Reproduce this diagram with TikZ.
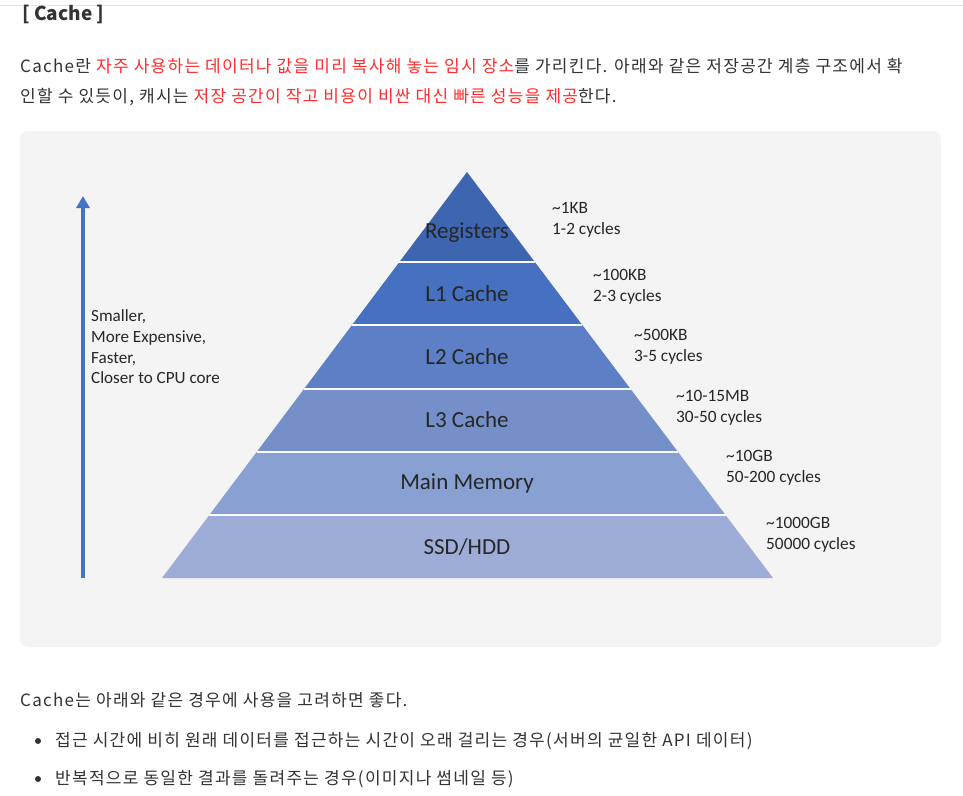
\documentclass[tikz,border=0pt]{standalone}
\usepackage{fontspec}
\setmainfont{Carlito}
\newfontfamily\krfont{Noto Sans CJK KR}[LetterSpace=7.5]
\newfontfamily\krhead{Noto Sans CJK KR}
\usetikzlibrary{arrows.meta, positioning, calc}

\definecolor{txtgray}{HTML}{333333}
\definecolor{hired}{HTML}{FF2D2D}
\definecolor{panelgray}{HTML}{F4F4F4}
\definecolor{arrowblue}{HTML}{4472C4}
\definecolor{lvla}{HTML}{3D65B0}
\definecolor{lvlb}{HTML}{4670C0}
\definecolor{lvlc}{HTML}{5C7FC6}
\definecolor{lvld}{HTML}{7590C9}
\definecolor{lvle}{HTML}{89A0D2}
\definecolor{lvlf}{HTML}{9DADD8}

\begin{document}
\begin{tikzpicture}[
  x=1pt, y=-1pt,
  body/.style={anchor=west, inner sep=0pt, text=txtgray, font=\krfont\fontsize{17}{17}\selectfont},
  layer/.style={inner sep=0pt, text=black!85, font=\fontsize{23}{23}\selectfont},
  spec/.style={anchor=west, align=left, inner sep=0pt, text=black!85, font=\fontsize{17.3}{21}\selectfont},
  dot/.style={circle, fill=txtgray, inner sep=0pt, minimum size=6pt},
  arr/.style={arrowblue, line width=4pt, -{Triangle[length=12pt, width=13pt]}}
]
\useasboundingbox (0,0) rectangle (963,795);
\fill[white] (0,0) rectangle (963,795);
\draw[black!10] (0,5) -- (963,5);

% header and intro
\node[body, font=\krhead\bfseries\fontsize{19}{19}\selectfont] (title) at (22,14) {[ Cache ]};
\node[body] (introa) at (20,66) {Cache란 \textcolor{hired}{자주 사용하는 데이터나 값을 미리 복사해 놓는 임시 장소}를 가리킨다. 아래와 같은 저장공간 계층 구조에서 확};
\node[body] (introb) at (20,97) {인할 수 있듯이, 캐시는 \textcolor{hired}{저장 공간이 작고 비용이 비싼 대신 빠른 성능을 제공}한다.};

% panel
\fill[panelgray, rounded corners=8pt] (20,131) rectangle (941,647);

% pyramid
\coordinate (apex) at (467,172);
\coordinate (bl) at (162,578);
\coordinate (br) at (773,578);
\foreach \ta/\tb/\col in {0/.2217/lvla, .2217/.3768/lvlb, .3768/.5345/lvlc, .5345/.6897/lvld, .6897/.8448/lvle, .8448/1/lvlf}
  \fill[\col] ($(apex)!\ta!(bl)$) -- ($(apex)!\tb!(bl)$) -- ($(apex)!\tb!(br)$) -- ($(apex)!\ta!(br)$) -- cycle;
\foreach \t in {.2217, .3768, .5345, .6897, .8448}
  \draw[white, line width=1.2pt] ($(apex)!\t!(bl)$) -- ($(apex)!\t!(br)$);

\node[layer] (reg) at (467,233) {Registers};
\node[layer] (lone) at (467,294) {L1 Cache};
\node[layer] (ltwo) at (467,357) {L2 Cache};
\node[layer] (lthree) at (467,420) {L3 Cache};
\node[layer] (mem) at (467,483) {Main Memory};
\node[layer] (disk) at (467,547) {SSD/HDD};

\node[spec] (sreg) at (552,220) {\textasciitilde1KB\\1-2 cycles};
\node[spec] (slone) at (593,287) {\textasciitilde100KB\\2-3 cycles};
\node[spec] (sltwo) at (634,347) {\textasciitilde500KB\\3-5 cycles};
\node[spec] (slthree) at (676,408) {\textasciitilde10-15MB\\30-50 cycles};
\node[spec] (smem) at (726,468) {\textasciitilde10GB\\50-200 cycles};
\node[spec] (sdisk) at (766,535) {\textasciitilde1000GB\\50000 cycles};

% direction arrow
\coordinate (abot) at (83,578);
\coordinate (atop) at (83,196);
\draw[arr] (abot) -- (atop);
\node[spec, font=\fontsize{17.1}{20.7}\selectfont] (trend) at (91,347) {Smaller,\\More Expensive,\\Faster,\\Closer to CPU core};

% usage notes
\node[body] (usage) at (20,700) {Cache는 아래와 같은 경우에 사용을 고려하면 좋다.};
\node[dot] (da) at (38,741) {};
\node[body] (ua) at (55,741) {접근 시간에 비히 원래 데이터를 접근하는 시간이 오래 걸리는 경우(서버의 균일한 API 데이터)};
\node[dot] (db) at (38,779) {};
\node[body] (ub) at (55,779) {반복적으로 동일한 결과를 돌려주는 경우(이미지나 썸네일 등)};
\end{tikzpicture}
\end{document}
